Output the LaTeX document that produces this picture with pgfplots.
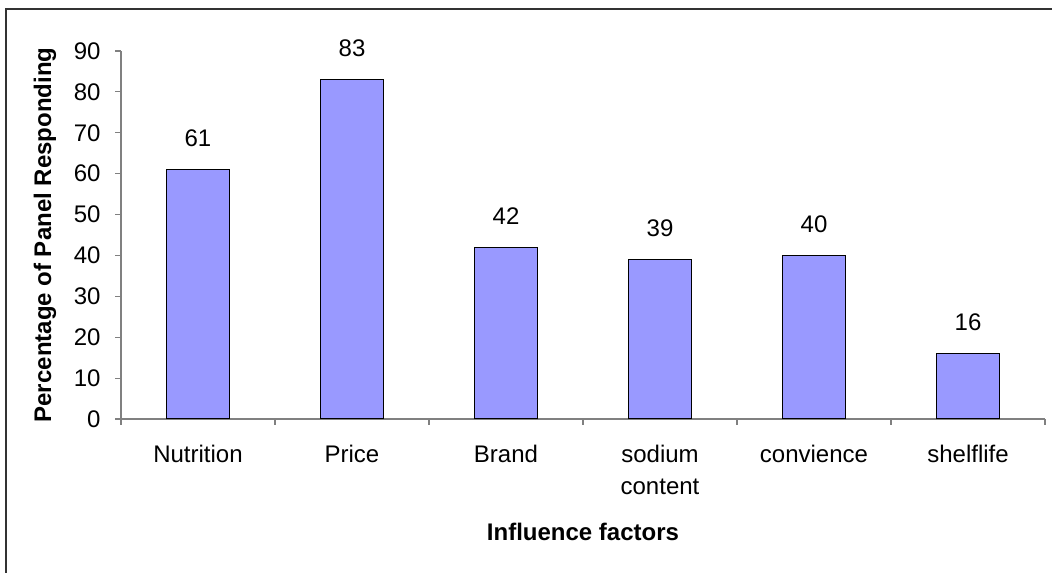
\documentclass[border=0pt]{standalone}
\usepackage{fontspec}
\setmainfont{Liberation Sans}
\usepackage{pgfplots}
\pgfplotsset{compat=1.18}

\definecolor{barblue}{HTML}{9999FF}
\definecolor{axisgray}{HTML}{808080}
\newcommand\ff{\fontsize{24bp}{32bp}\selectfont}

\begin{document}
\begin{tikzpicture}[x=1bp,y=1bp]
  \useasboundingbox (0,0) rectangle (1052,573);
  \draw[line width=2bp, draw=black!80] (6,-5) -- (6,564) -- (1060,564);
  \begin{axis}[
    at={(121bp,154bp)}, anchor=south west,
    scale only axis,
    width=924bp, height=368bp,
    xmin=0, xmax=6,
    ymin=0, ymax=90,
    ytick={0,10,...,90},
    xtick={0.5,1.5,2.5,3.5,4.5,5.5},
    xticklabels={Nutrition, Price, Brand, sodium\\content, convience, shelflife},
    minor xtick={0,1,...,6},
    axis x line*=bottom,
    axis y line*=left,
    axis line style={-, draw=axisgray, line width=1.2bp},
    tick align=outside,
    major tick length=6bp,
    minor tick length=6bp,
    tick style={draw=axisgray, line width=1.2bp},
    major x tick style={draw=none},
    /pgf/number format/assume math mode=true,
    ticklabel style={font=\ff},
    xticklabel style={align=center, yshift=-17bp},
    yticklabel style={xshift=-11bp},
    xlabel={\textbf{Influence factors}},
    ylabel={\textbf{Percentage of Panel Responding}},
    label style={font=\ff},
    xlabel style={at={(axis description cs:0.5,-0.307)}, anchor=center},
    ylabel style={at={(axis description cs:-0.0823,0.5)}, anchor=center},
    ybar,
    bar width=63bp,
    nodes near coords,
    every node near coord/.append style={font=\ff, inner sep=0pt, yshift=22bp, black},
  ]
    \addplot[fill=barblue, draw=black, line width=1.5bp] coordinates {
      (0.5,61) (1.5,83) (2.5,42) (3.5,39) (4.5,40) (5.5,16)
    };
  \end{axis}
\end{tikzpicture}
\end{document}
